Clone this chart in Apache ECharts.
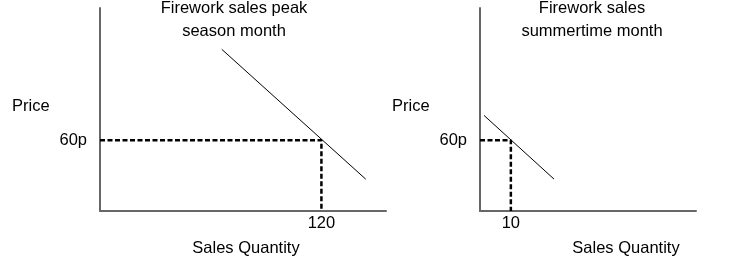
<!DOCTYPE html>
<html>
<head>
<meta charset="utf-8">
<script src="https://cdn.jsdelivr.net/npm/echarts@6/dist/echarts.min.js"></script>
<style>
html,body{margin:0;padding:0;background:#fff;}
#c{width:750px;height:266px;}
</style>
</head>
<body>
<div id="c"></div>
<script>
// Panel titles
var titles = ["Firework sales peak\nseason month", "Firework sales\nsummertime month"];
var yName = "Price";
var xName = "Sales Quantity";
// Tick labels shown on each axis
var priceTicks = [60];
var peakQtyTicks = [120];
var summerQtyTicks = [10];
// Demand curves (quantity, price)
var peakDemand = [[66, 137], [144, 27]];
var summerDemand = [[1.3, 81], [24, 27]];
// Equilibrium guides (price 60p at each quantity)
var peakPoint = [120, 60];
var summerPoint = [10, 60];
// Axis ranges
var peakQtyMax = 155, summerQtyMax = 70, priceMax = 172;

var font = '"Liberation Sans", Arial, sans-serif';
var fs = 16.5;
var axisColor = '#676767';

function guide(p) { return [[0, p[1]], [p[0], p[1]], [p[0], 0]]; }

function xAxis(idx, max, ticks) {
  return {
    type: 'value', gridIndex: idx, min: 0, max: max,
    axisLine: { show: true, onZero: false, lineStyle: { color: axisColor, width: 2 } },
    axisTick: { show: false },
    splitLine: { show: false },
    axisLabel: { customValues: ticks, margin: 4, color: '#000', fontSize: fs, fontFamily: font }
  };
}
function yAxis(idx) {
  return {
    type: 'value', gridIndex: idx, min: 0, max: priceMax,
    axisLine: { show: true, onZero: false, lineStyle: { color: axisColor, width: 2 } },
    axisTick: { show: false },
    splitLine: { show: false },
    axisLabel: { customValues: priceTicks, margin: 13, color: '#000', fontSize: fs, fontFamily: font,
      formatter: function (v) { return v + 'p'; } }
  };
}

var chart = echarts.init(document.getElementById('c'), null, { renderer: 'canvas' });
chart.setOption({
  animation: false,
  backgroundColor: '#fff',
  grid: [
    { left: 100, top: 8, width: 286, height: 203 },
    { left: 480, top: 8, width: 216, height: 203 }
  ],
  xAxis: [xAxis(0, peakQtyMax, peakQtyTicks), xAxis(1, summerQtyMax, summerQtyTicks)],
  yAxis: [yAxis(0), yAxis(1)],
  series: [
    { type: 'line', xAxisIndex: 0, yAxisIndex: 0, data: guide(peakPoint), symbol: 'none',
      lineStyle: { color: '#000', width: 2.5, type: [5, 2.5] } },
    { type: 'line', xAxisIndex: 1, yAxisIndex: 1, data: guide(summerPoint), symbol: 'none',
      lineStyle: { color: '#000', width: 2.5, type: [5, 2.5] } },
    { type: 'line', xAxisIndex: 0, yAxisIndex: 0, data: peakDemand, symbol: 'none',
      lineStyle: { color: '#000', width: 1 } },
    { type: 'line', xAxisIndex: 1, yAxisIndex: 1, data: summerDemand, symbol: 'none',
      lineStyle: { color: '#000', width: 1 } }
  ],
  graphic: [
    { type: 'text', x: 234, y: 20, style: { text: titles[0], textAlign: 'center', textVerticalAlign: 'middle', font: fs + 'px ' + font, lineHeight: 23, fill: '#000' } },
    { type: 'text', x: 592, y: 20, style: { text: titles[1], textAlign: 'center', textVerticalAlign: 'middle', font: fs + 'px ' + font, lineHeight: 23, fill: '#000' } },
    { type: 'text', x: 12, y: 106, style: { text: yName, textAlign: 'left', textVerticalAlign: 'middle', font: fs + 'px ' + font, fill: '#000' } },
    { type: 'text', x: 392, y: 106, style: { text: yName, textAlign: 'left', textVerticalAlign: 'middle', font: fs + 'px ' + font, fill: '#000' } },
    { type: 'text', x: 246, y: 248, style: { text: xName, textAlign: 'center', textVerticalAlign: 'middle', font: fs + 'px ' + font, fill: '#000' } },
    { type: 'text', x: 626, y: 248, style: { text: xName, textAlign: 'center', textVerticalAlign: 'middle', font: fs + 'px ' + font, fill: '#000' } }
  ]
});
</script>
</body>
</html>
